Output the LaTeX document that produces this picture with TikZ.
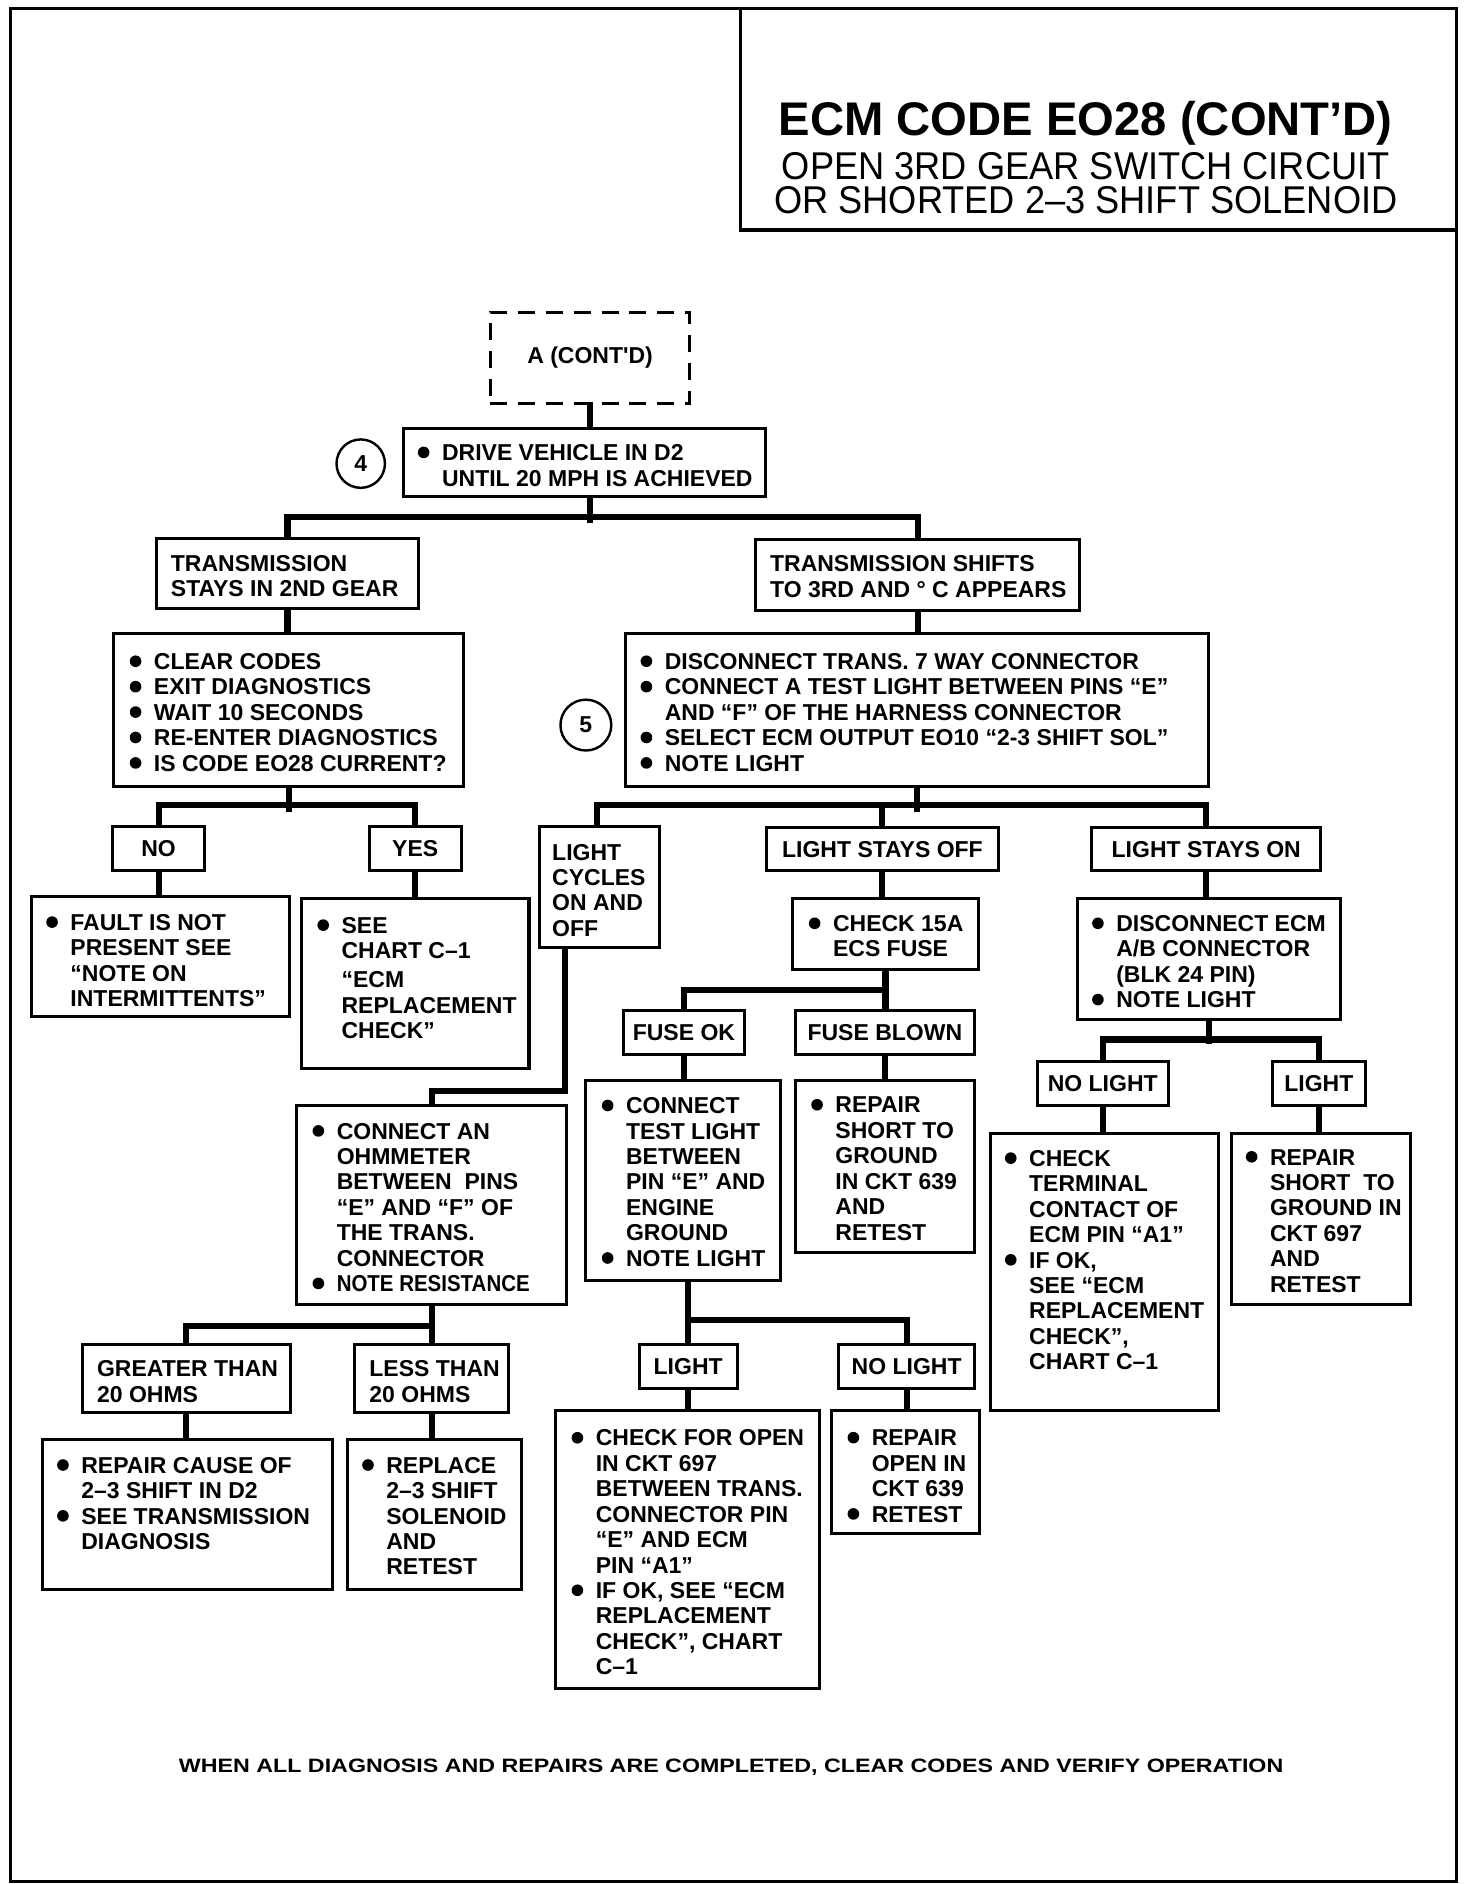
\documentclass[tikz,border=0pt]{standalone}
\usepackage{fontspec}
\setmainfont{Liberation Sans}
\newfontfamily\condfont[FakeStretch=0.935]{Liberation Sans}
\newfontfamily\widefont[FakeStretch=1.2]{Liberation Sans}
\newcommand{\bul}{\makebox[20pt][l]{\tikz[baseline=-6.8pt]\fill (4.8pt,0pt) circle (4.8pt);}}
\newcommand{\ind}{\hspace*{20pt}}
\tikzset{
  bx/.style={draw, line width=2.5pt, rectangle, inner sep=0pt},
  txt/.style={font=\bfseries\fontsize{19}{21}\selectfont, align=left, inner sep=0pt, anchor=west},
  lbl/.style={font=\bfseries\fontsize{19}{21}\selectfont, align=left},
  conn/.style={line width=5pt, line cap=rect, line join=miter},
  num/.style={draw, circle, line width=2pt, minimum size=40pt, inner sep=0pt, font=\bfseries\fontsize{19}{21}\selectfont},
}
\newcommand{\bx}[6][]{\node[bx,#1, minimum width={#5-#3}, minimum height={#6-#4}] (#2) at ({(#3+#5)/2},{(#4+#6)/2}) {};}
\newcommand{\lbx}[7][]{\node[bx,lbl,#1, minimum width={#5-#3}, minimum height={#6-#4}] (#2) at ({(#3+#5)/2},{(#4+#6)/2}) {#7};}
\begin{document}
\begin{tikzpicture}[x=1pt,y=-1pt]
\useasboundingbox (0,0) rectangle (1216,1556.4);
\fill[white] (0,0) rectangle (1216,1556.4);
\draw[line width=2.5pt] (9,7) rectangle (1203,1554);
% title
\bx{title}{612}{7}{1203}{190}
\node[font=\bfseries\fontsize{39}{40}\selectfont, inner sep=0pt, anchor=base, text depth=0pt] (ttl) at (897,112) {ECM CODE EO28 (CONT’D)};
\node[font=\condfont\fontsize{32}{28}\selectfont, inner sep=0pt, anchor=base, text height=23pt, text depth=0pt] (sub1) at (897,148) {OPEN 3RD GEAR SWITCH CIRCUIT};
\node[font=\condfont\fontsize{32}{28}\selectfont, inner sep=0pt, anchor=base, text height=23pt, text depth=0pt] (sub2) at (897,176) {OR SHORTED 2–3 SHIFT SOLENOID};
% boxes
\lbx[dash pattern=on 14pt off 9pt]{A}{405}{258}{570}{333}{A (CONT\textquotesingle D)}
\node[num] (c4) at (298,383) {4};
\bx{drive}{333}{354}{632}{410}
\bx{T2}{129}{445}{346}{503}
\bx{T3}{624}{446}{892}{504}
\bx{clear}{94}{523}{383}{650}
\bx{box5}{517}{523}{998}{650}
\node[num, minimum size=42pt] (c5) at (484,599) {5};
\lbx{NO}{93}{683}{169}{719}{NO}
\lbx{YES}{305}{683}{381}{719}{YES}
\bx{FAULT}{26}{741}{239}{840}
\bx{SEE}{249}{742}{437}{883}
\bx{LCYC}{446}{683}{545}{783}
\lbx{LOFF}{633}{684}{825}{719}{LIGHT STAYS OFF}
\lbx{LON}{902}{684}{1091}{719}{LIGHT STAYS ON}
\bx{CHK15}{655}{742}{808}{801}
\lbx{FUSEOK}{515}{835}{615}{871}{FUSE OK}
\lbx{FUSEBL}{657}{835}{805}{871}{FUSE BLOWN}
\bx{CONN}{484}{893}{645}{1058}
\bx{RSHORT}{657}{893}{805}{1035}
\lbx{LGT1}{528}{1111}{609}{1147}{LIGHT}
\lbx{NOL1}{693}{1111}{805}{1147}{NO LIGHT}
\bx{CHKOPEN}{459}{1165}{677}{1395}
\bx{ROPEN}{687}{1165}{809}{1267}
\bx{DISC}{890}{742}{1107}{842}
\lbx{NOL2}{857}{877}{965}{913}{NO LIGHT}
\lbx{LGT2}{1051}{877}{1128}{913}{LIGHT}
\bx{CHKTERM}{818}{936}{1007}{1165}
\bx{RSG}{1017}{936}{1165}{1078}
\bx{OHM}{245}{913}{468}{1078}
\bx{GT}{68}{1111}{240}{1167}
\bx{LT}{293}{1111}{420}{1167}
\bx{RCAUSE}{35}{1189}{275}{1313}
\bx{REPL}{287}{1189}{431}{1313}
% texts
\node[txt] (tdrive) at ({365-20},384.5) {\bul DRIVE VEHICLE IN D2\\\ind UNTIL 20 MPH IS ACHIEVED};
\node[txt] (tT2) at (141,476) {TRANSMISSION\\STAYS IN 2ND GEAR};
\node[txt] (tT3) at (636,476.5) {TRANSMISSION SHIFTS\\TO 3RD AND ° C APPEARS};
\node[txt] (tclear) at ({127-20},588.5) {\bul CLEAR CODES\\\bul EXIT DIAGNOSTICS\\\bul WAIT 10 SECONDS\\\bul RE-ENTER DIAGNOSTICS\\\bul IS CODE EO28 CURRENT?};
\node[txt] (tbox5) at ({549-20},588.5) {\bul DISCONNECT TRANS. 7 WAY CONNECTOR\\\bul CONNECT A TEST LIGHT BETWEEN PINS “E”\\\ind AND “F” OF THE HARNESS CONNECTOR\\\bul SELECT ECM OUTPUT EO10 “2-3 SHIFT SOL”\\\bul NOTE LIGHT};
\node[txt] (tFAULT) at ({58-20},793.5) {\bul FAULT IS NOT\\\ind PRESENT SEE\\\ind “NOTE ON\\\ind INTERMITTENTS”};
\node[txt] (tSEE) at ({282-20},808) {\bul SEE\\\ind CHART C–1\\[3pt]\ind “ECM\\\ind REPLACEMENT\\\ind CHECK”};
\node[txt] (tLCYC) at (456,735.5) {LIGHT\\CYCLES\\ON AND\\OFF};
\node[txt] (tCHK15) at ({688-20},773.5) {\bul CHECK 15A\\\ind ECS FUSE};
\node[txt] (tCONN) at ({517-20},976.5) {\bul CONNECT\\\ind TEST LIGHT\\\ind BETWEEN\\\ind PIN “E” AND\\\ind ENGINE\\\ind GROUND\\\bul NOTE LIGHT};
\node[txt] (tRSHORT) at ({690-20},965.5) {\bul REPAIR\\\ind SHORT TO\\\ind GROUND\\\ind IN CKT 639\\\ind AND\\\ind RETEST};
\node[txt] (tCHKOPEN) at ({492-20},1282.5) {\bul CHECK FOR OPEN\\\ind IN CKT 697\\\ind BETWEEN TRANS.\\\ind CONNECTOR PIN\\\ind “E” AND ECM\\\ind PIN “A1”\\\bul IF OK, SEE “ECM\\\ind REPLACEMENT\\\ind CHECK”, CHART\\\ind C–1};
\node[txt] (tROPEN) at ({720-20},1219.5) {\bul REPAIR\\\ind OPEN IN\\\ind CKT 639\\\bul RETEST};
\node[txt] (tDISC) at ({922-20},794.5) {\bul DISCONNECT ECM\\\ind A/B CONNECTOR\\\ind (BLK 24 PIN)\\\bul NOTE LIGHT};
\node[txt] (tCHKTERM) at ({850-20},1041) {\bul CHECK\\\ind TERMINAL\\\ind CONTACT OF\\\ind ECM PIN “A1”\\\bul IF OK,\\\ind SEE “ECM\\\ind REPLACEMENT\\\ind CHECK”,\\\ind CHART C–1};
\node[txt] (tRSG) at ({1049-20},1008.5) {\bul REPAIR\\\ind SHORT\ \ TO\\\ind GROUND IN\\\ind CKT 697\\\ind AND\\\ind RETEST};
\node[txt] (tOHM) at ({278-20},997.5) {\bul CONNECT AN\\\ind OHMMETER\\\ind BETWEEN\ \ PINS\\\ind “E” AND “F” OF\\\ind THE TRANS.\\\ind CONNECTOR\\\bul \scalebox{0.89}[1]{NOTE RESISTANCE}};
\node[txt] (tGT) at (80,1141.5) {GREATER THAN\\20 OHMS};
\node[txt] (tLT) at (305,1141.5) {LESS THAN\\20 OHMS};
\node[txt] (tRCAUSE) at ({67-20},1242) {\bul REPAIR CAUSE OF\\\ind 2–3 SHIFT IN D2\\\bul SEE TRANSMISSION\\\ind DIAGNOSIS};
\node[txt] (tREPL) at ({319-20},1252.5) {\bul REPLACE\\\ind 2–3 SHIFT\\\ind SOLENOID\\\ind AND\\\ind RETEST};
\node[font=\widefont\bfseries\fontsize{16}{18}\selectfont, inner sep=0pt] (foot) at (604,1460) {WHEN ALL DIAGNOSIS AND REPAIRS ARE COMPLETED, CLEAR CODES AND VERIFY OPERATION};
% connectors
\draw[conn] (A.south) -- (A.south |- drive.north);
\draw[conn] (A.south |- drive.south) -- ++(0,18);
\draw[conn] (T2.north) -- ++(0,-17) -| (T3.north);
\draw[conn] (T2.south) -- (T2.south |- clear.north);
\draw[conn] (T3.south) -- (T3.south |- box5.north);
\draw[conn] (clear.south) -- ++(0,17);
\draw[conn] (NO.north) -- ++(0,-17) -| (YES.north);
\draw[conn] (NO.south) -- (NO.south |- FAULT.north);
\draw[conn] (YES.south) -- (YES.south |- SEE.north);
\draw[conn] (box5.south) -- ++(0,17);
\draw[conn] ([xshift=-2.5pt]LCYC.north) -- ++(0,-17) -| (LON.north);
\draw[conn] (LOFF.north) -- ++(0,-17);
\draw[conn] ([xshift=-28.5pt]LCYC.south) -- ++(0,117) -| (OHM.north);
\draw[conn] (LOFF.south) -- (LOFF.south |- CHK15.north);
\draw[conn] (CHK15.south) -- (CHK15.south |- FUSEBL.north);
\draw[conn] (FUSEOK.north) -- ++(0,-16) -| (CHK15.south);
\draw[conn] (FUSEOK.south) -- (FUSEOK.south |- CONN.north);
\draw[conn] (FUSEBL.south) -- (FUSEBL.south |- RSHORT.north);
\draw[conn] (LGT1.north |- CONN.south) -- (LGT1.north);
\draw[conn] (LGT1.north) -- ++(0,-19) -| (NOL1.north);
\draw[conn] (LGT1.south) -- (LGT1.south |- CHKOPEN.north);
\draw[conn] (NOL1.south) -- (NOL1.south |- ROPEN.north);
\draw[conn] (LON.south) -- (LON.south |- DISC.north);
\draw[conn] (DISC.south) -- ++(0,17);
\draw[conn] (NOL2.north) -- ++(0,-17) -| (LGT2.north);
\draw[conn] (NOL2.south) -- (NOL2.south |- CHKTERM.north);
\draw[conn] (LGT2.south) -- (LGT2.south |- RSG.north);
\draw[conn] (OHM.south) -- ++(0,19);
\draw[conn] (GT.north) -- ++(0,-14) -| (LT.north);
\draw[conn] (GT.south) -- (GT.south |- RCAUSE.north);
\draw[conn] (LT.south) -- (LT.south |- REPL.north);
\end{tikzpicture}
\end{document}
